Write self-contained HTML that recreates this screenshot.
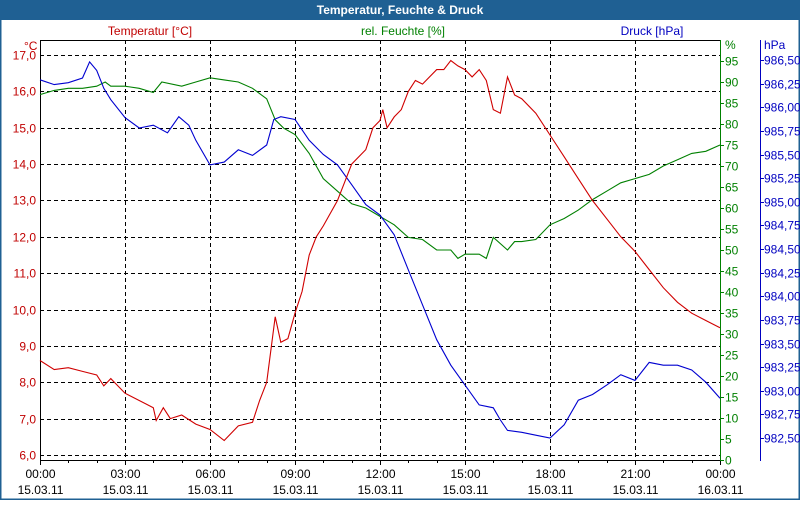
<!DOCTYPE html>
<html><head><meta charset="utf-8"><style>
body{margin:0;background:#fff;font-family:"Liberation Sans",sans-serif}
svg text{font-family:"Liberation Sans",sans-serif;font-size:12px}
</style></head><body>
<svg id="chart" width="800" height="500" viewBox="0 0 800 500">
<rect x="0" y="0" width="800" height="500" fill="#fff"/>
<rect x="0.5" y="0.5" width="799" height="499" fill="none" stroke="#1f6093" stroke-width="2"/>
<rect x="0" y="0" width="800" height="20" fill="#1f6093"/>
<text x="400" y="14" text-anchor="middle" fill="#fff" font-weight="bold" style="font-size:12px">Temperatur, Feuchte &amp; Druck</text>
<text x="150" y="35" text-anchor="middle" fill="#c00000">Temperatur [°C]</text>
<text x="403" y="35" text-anchor="middle" fill="#008000">rel. Feuchte [%]</text>
<text x="652" y="35" text-anchor="middle" fill="#0000c0">Druck [hPa]</text>
<text x="24" y="50" fill="#c00000">°C</text>
<text x="725" y="49" fill="#008000">%</text>
<text x="764" y="49" fill="#0000c0">hPa</text>
<g id="grid"></g><g id="axes"></g><g id="series"></g>
</svg>
<script>
const tempHours=[0,0.5,1,1.5,2,2.25,2.5,3,3.5,3.75,4,4.1,4.35,4.6,5,5.5,6,6.5,7,7.5,7.75,8,8.3,8.5,8.75,9,9.25,9.5,9.75,10,10.5,10.75,11,11.5,11.75,12,12.1,12.25,12.5,12.75,13,13.25,13.5,14,14.25,14.5,14.75,15,15.25,15.5,15.75,16,16.25,16.5,16.75,17,17.5,18,18.5,19,19.5,20,20.5,21,21.5,22,22.5,23,23.5,24];
const tempValues=[8.6,8.35,8.4,8.3,8.2,7.9,8.1,7.7,7.5,7.4,7.3,6.95,7.3,7.0,7.1,6.85,6.7,6.4,6.8,6.9,7.5,8.0,9.8,9.1,9.2,9.9,10.5,11.5,12.0,12.3,13.0,13.5,14.0,14.4,15.0,15.2,15.5,15.0,15.3,15.5,16.0,16.3,16.2,16.6,16.6,16.85,16.7,16.6,16.4,16.6,16.3,15.5,15.4,16.4,15.9,15.8,15.4,14.8,14.2,13.6,13.0,12.5,12.0,11.6,11.1,10.6,10.2,9.9,9.7,9.5];
const humHours=[0,0.5,1,1.5,2,2.3,2.5,3,3.5,4,4.3,5,5.5,6,6.5,7,7.5,8,8.3,8.6,9,9.5,10,10.5,11,11.5,12,12.5,13,13.5,14,14.5,14.75,15,15.5,15.75,16,16.5,16.75,17,17.5,18,18.5,19,19.5,20,20.5,21,21.5,22,22.5,23,23.5,24];
const humValues=[87,88,88.5,88.5,89,90,89,89,88.5,87.5,90,89,90,91,90.5,90,88.5,86,81,79,77.5,73,67,64,61,60,58,56,53,52.5,50,50,48,49,49,48,53,50,52,52,52.5,56,57.5,59.5,62,64,66,67,68,70,71.5,73,73.5,75];
const presHours=[0,0.5,1,1.5,1.75,2,2.25,2.5,3,3.5,4,4.5,4.9,5.25,5.5,6,6.5,7,7.5,8,8.25,8.5,9,9.5,10,10.5,11,11.5,12,12.5,13,13.5,14,14.5,15,15.5,16,16.25,16.5,17,17.5,18,18.5,19,19.5,20,20.5,21,21.5,22,22.5,23,23.5,24];
const presValues=[986.29,986.24,986.26,986.31,986.48,986.39,986.20,986.08,985.89,985.78,985.81,985.73,985.90,985.81,985.65,985.39,985.42,985.55,985.49,985.60,985.87,985.90,985.87,985.65,985.50,985.39,985.18,984.97,984.86,984.65,984.28,983.91,983.54,983.27,983.06,982.85,982.82,982.69,982.58,982.56,982.53,982.50,982.64,982.90,982.96,983.06,983.17,983.11,983.30,983.27,983.27,983.22,983.09,982.92];
const xTickHours=[0,3,6,9,12,15,18,21,24];
const xTickTimes=["00:00","03:00","06:00","09:00","12:00","15:00","18:00","21:00","00:00"];
const xTickDates=["15.03.11","15.03.11","15.03.11","15.03.11","15.03.11","15.03.11","15.03.11","15.03.11","16.03.11"];
const tempTicks=[6,7,8,9,10,11,12,13,14,15,16,17];
const humTicks=[0,5,10,15,20,25,30,35,40,45,50,55,60,65,70,75,80,85,90,95];
const presTicks=[982.5,982.75,983,983.25,983.5,983.75,984,984.25,984.5,984.75,985,985.25,985.5,985.75,986,986.25,986.5];

const X0=40,X1=720,YT=40,YB=460;
const xs=h=>X0+h*(X1-X0)/24;
const yT=t=>455-(t-6)*36.36;
const yH=v=>460-v*4.2;
const yP=p=>438-(p-982.5)*94.5;
const NS="http://www.w3.org/2000/svg";
function mk(tag,attrs,parent,txt){const e=document.createElementNS(NS,tag);for(const k in attrs)e.setAttribute(k,attrs[k]);if(txt!=null)e.textContent=txt;parent.appendChild(e);return e;}
const grid=document.getElementById('grid'),axes=document.getElementById('axes'),ser=document.getElementById('series');
const fmt=(v,d)=>v.toFixed(d).replace('.',',');

tempTicks.forEach(t=>{
  const y=Math.round(yT(t))+0.5;
  const l=mk('line',{x1:X0,x2:X1,y1:y,y2:y,stroke:'#000','stroke-dasharray':'4,3'},grid);
  
  
  const tx=mk('text',{x:36,y:y+4,'text-anchor':'end',fill:'#c00000'},axes,fmt(t,1));
  
  
});
xTickHours.forEach((h,i)=>{
  const x=Math.round(xs(h))+0.5;
  if(i>0&&i<8){const l=mk('line',{x1:x,x2:x,y1:YT,y2:YB,stroke:'#000','stroke-dasharray':'4,3'},grid);
  
  }
  const a=mk('text',{x:x,y:478,'text-anchor':'middle',fill:'#000'},axes,xTickTimes[i]);
  
  
  const b=mk('text',{x:x,y:494,'text-anchor':'middle',fill:'#000'},axes,xTickDates[i]);
  
  
});
for(let h=0;h<=24;h++){const x=Math.round(xs(h))+0.5;mk('line',{x1:x,x2:x,y1:YB,y2:YB+(h%3?3:5),stroke:'#000'},axes);}
mk('line',{x1:X0+0.5,x2:X0+0.5,y1:YT,y2:YB+1,stroke:'#000'},axes);
mk('line',{x1:X0,x2:X1,y1:YB+0.5,y2:YB+0.5,stroke:'#000'},axes);
mk('line',{x1:X0,x2:X1,y1:YT+0.5,y2:YT+0.5,stroke:'#000'},axes);
mk('line',{x1:X1+0.5,x2:X1+0.5,y1:YT,y2:YB+1,stroke:'#008000'},axes);
humTicks.forEach(v=>{const y=Math.round(yH(v))+0.5;mk('line',{x1:X1,x2:X1+4,y1:y,y2:y,stroke:'#008000'},axes);
  const t=mk('text',{x:725,y:y+4,fill:'#008000'},axes,String(v));
  
  });
mk('line',{x1:760.5,x2:760.5,y1:YT,y2:YB+1,stroke:'#0000c0'},axes);
presTicks.forEach(p=>{const y=Math.round(yP(p))+0.5;mk('line',{x1:760,x2:764,y1:y,y2:y,stroke:'#0000c0'},axes);
  const t=mk('text',{x:764,y:y+4,fill:'#0000c0'},axes,fmt(p,2));
  
  });
function line(hs,vs,yf,color,name){
  const d=hs.map((h,i)=>(i?'L':'M')+xs(h).toFixed(1)+','+yf(vs[i]).toFixed(1)).join('');
  const p=mk('path',{d:d,fill:'none',stroke:color,'stroke-width':1.1},ser);
  
  
}
line(humHours,humValues,yH,'#008000','humidity-line');
line(presHours,presValues,yP,'#0000d0','pressure-line');
line(tempHours,tempValues,yT,'#d00000','temperature-line');
</script>
</body></html>
